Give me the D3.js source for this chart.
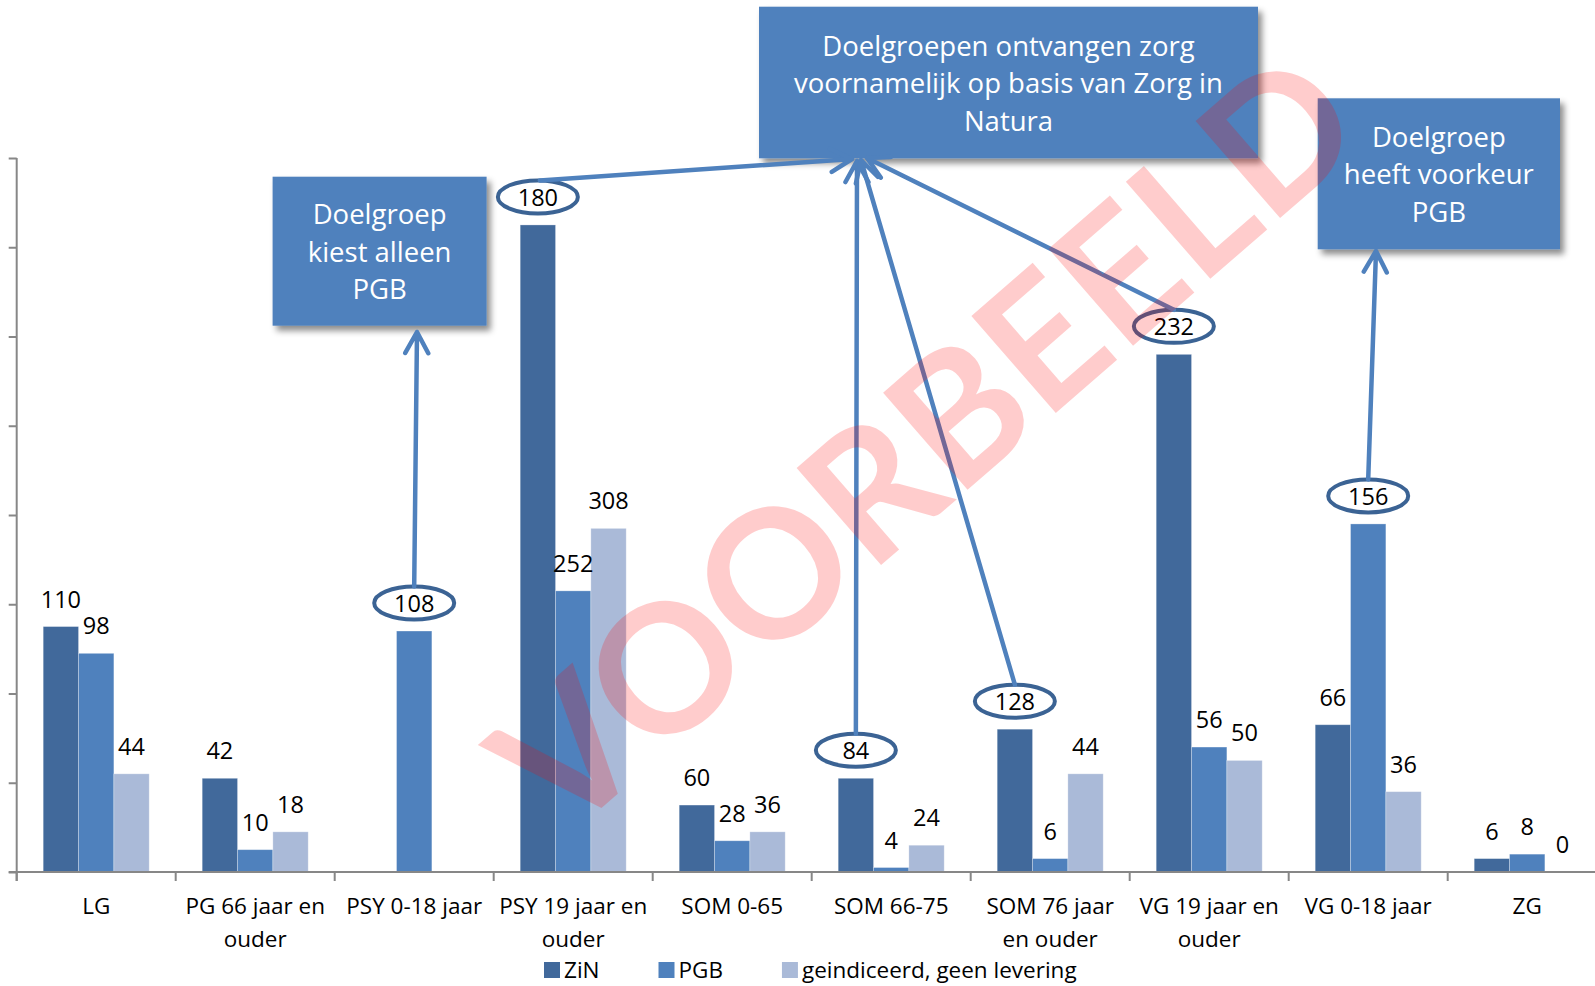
<!DOCTYPE html>
<html>
<head>
<meta charset="utf-8">
<script src="https://cdn.jsdelivr.net/npm/d3@7"></script>
<style>
  body { margin: 0; background: #fff; }
  text { font-family: "Open Sans", Lato, sans-serif; }
</style>
</head>
<body>
<div id="chart"></div>
<script>
// data (bar heights) and the printed labels
var categories = ["LG", "PG 66 jaar en ouder", "PSY 0-18 jaar", "PSY 19 jaar en ouder",
  "SOM 0-65", "SOM 66-75", "SOM 76 jaar en ouder", "VG 19 jaar en ouder", "VG 0-18 jaar", "ZG"];
var categoryLines = [["LG"], ["PG 66 jaar en", "ouder"], ["PSY 0-18 jaar"], ["PSY 19 jaar en", "ouder"],
  ["SOM 0-65"], ["SOM 66-75"], ["SOM 76 jaar", "en ouder"], ["VG 19 jaar en", "ouder"], ["VG 0-18 jaar"], ["ZG"]];
var seriesNames = ["ZiN", "PGB", "geindiceerd, geen levering"];
var zinValues = [110, 42, 0, 290, 30, 42, 64, 232, 66, 6];
var pgbValues = [98, 10, 108, 126, 14, 2, 6, 56, 156, 8];
var geenValues = [44, 18, 0, 154, 18, 12, 44, 50, 36, 0];
var zinLabels = ["110", "42", null, "180", "60", "84", "128", "232", "66", "6"];
var pgbLabels = ["98", "10", "108", "252", "28", "4", "6", "56", "156", "8"];
var geenLabels = ["44", "18", null, "308", "36", "24", "44", "50", "36", "0"];
var yTicks = [0, 40, 80, 120, 160, 200, 240, 280, 320];

// circled labels: [series index, category]
var circled = [[0, "PSY 19 jaar en ouder"], [1, "PSY 0-18 jaar"], [0, "SOM 66-75"],
  [0, "SOM 76 jaar en ouder"], [0, "VG 19 jaar en ouder"], [1, "VG 0-18 jaar"]];

var colors = ["#41699b", "#4f81bd", "#aabad8"];

var W = 1595, H = 986;
var svg = d3.select("#chart").append("svg")
  .attr("width", W).attr("height", H);

var defs = svg.append("defs");
var f = defs.append("filter").attr("id", "shadow")
  .attr("x", "-10%").attr("y", "-10%").attr("width", "130%").attr("height", "140%");
f.append("feDropShadow").attr("dx", 4).attr("dy", 5).attr("stdDeviation", 3)
  .attr("flood-color", "#000").attr("flood-opacity", 0.45);

var left = 16.7, step = 159, baseY = 872, topY = 158;

var x = d3.scaleBand().domain(categories)
  .range([left, left + step * categories.length]).padding(0);
var xs = d3.scaleBand().domain([0, 1, 2])
  .range([0, x.bandwidth()]).paddingInner(0).paddingOuter(0.75);
var y = d3.scaleLinear().domain([0, 320]).range([baseY, topY]);

var series = [zinValues, pgbValues, geenValues];
var labels = [zinLabels, pgbLabels, geenLabels];

// bars
series.forEach(function(vals, s) {
  svg.append("g").selectAll("rect")
    .data(categories)
    .enter().append("rect")
      .attr("x", function(d) { return x(d) + xs(s); })
      .attr("y", function(d, i) { return y(vals[i]); })
      .attr("width", xs.bandwidth())
      .attr("height", function(d, i) { return baseY - y(vals[i]); })
      .attr("fill", colors[s])
      .attr("stroke", "#ffffff").attr("stroke-opacity", 0.35).attr("stroke-width", 0.8);
});

// y axis
var yAxis = svg.append("g")
  .attr("transform", "translate(" + left + ",0)")
  .call(d3.axisLeft(y).tickValues(yTicks).tickSize(8).tickSizeOuter(0).tickFormat(""));
yAxis.selectAll("path, line").attr("stroke", "#878787").attr("stroke-width", 2);
yAxis.select(".domain").attr("d", "M0," + (baseY + 9) + "V" + topY);

// x axis line + boundary ticks
svg.append("line")
  .attr("x1", left - 8).attr("x2", W)
  .attr("y1", baseY).attr("y2", baseY)
  .attr("stroke", "#878787").attr("stroke-width", 2);
svg.append("g").selectAll("line")
  .data(d3.range(categories.length + 1))
  .enter().append("line")
    .attr("x1", function(i) { return left + i * step; })
    .attr("x2", function(i) { return left + i * step; })
    .attr("y1", baseY).attr("y2", baseY + 9)
    .attr("stroke", "#878787").attr("stroke-width", 2);

// category labels
var catG = svg.append("g").selectAll("text")
  .data(categories)
  .enter().append("text")
    .attr("x", function(d) { return x(d) + x.bandwidth() / 2; })
    .attr("y", 914)
    .attr("text-anchor", "middle")
    .style("font-size", "22.5px")
    .attr("fill", "#000");
catG.each(function(d, i) {
  var t = d3.select(this);
  categoryLines[i].forEach(function(line, k) {
    t.append("tspan")
      .attr("x", x(d) + x.bandwidth() / 2)
      .attr("dy", k === 0 ? 0 : 32.5)
      .text(line);
  });
});

// data labels
labels.forEach(function(labs, s) {
  svg.append("g").selectAll("text")
    .data(categories)
    .enter().append("text")
      .filter(function(d, i) { return labs[i] !== null; })
      .attr("x", function(d) { return x(d) + xs(s) + xs.bandwidth() / 2; })
      .attr("y", function(d) { var i = categories.indexOf(d); return y(series[s][i]) - 19; })
      .attr("text-anchor", "middle")
      .style("font-size", "23.5px")
      .attr("fill", "#000")
      .text(function(d) { return labs[categories.indexOf(d)]; });
});

// helpers for circled labels
function circleCenter(c) {
  var i = categories.indexOf(c[1]);
  return [x(c[1]) + xs(c[0]) + xs.bandwidth() / 2, y(series[c[0]][i]) - 19 - 9];
}
var ry = 16.5;

svg.append("g").selectAll("ellipse")
  .data(circled)
  .enter().append("ellipse")
    .attr("cx", function(c) { return circleCenter(c)[0]; })
    .attr("cy", function(c) { return circleCenter(c)[1]; })
    .attr("rx", 40).attr("ry", ry)
    .attr("fill", "none")
    .attr("stroke", "#3b6394")
    .attr("stroke-width", 4);

// callout boxes
var boxes = [
  {x: 272.6, y: 176.7, w: 214, h: 149, lines: ["Doelgroep", "kiest alleen", "PGB"]},
  {x: 759, y: 6.7, w: 499, h: 151.6, lines: ["Doelgroepen ontvangen zorg", "voornamelijk op basis van Zorg in", "Natura"]},
  {x: 1317.7, y: 98.3, w: 242.3, h: 151, lines: ["Doelgroep", "heeft voorkeur", "PGB"]}
];

// arrows: from circled label to box bottom
var arrows = [
  {from: 1, to: [417, 332]},
  {from: 0, to: [852, 159]},
  {from: 2, to: [857, 161]},
  {from: 3, to: [861, 160]},
  {from: 4, to: [867, 158]},
  {from: 5, to: [1376, 251]}
];

function arrowPath(a) {
  var c = circleCenter(circled[a.from]);
  var x0 = c[0], y0 = c[1] - ry;
  if (a.from === 0) x0 = c[0] + 2;
  var x1 = a.to[0], y1 = a.to[1];
  var ang = Math.atan2(y0 - y1, x0 - x1);
  var len = 24, spread = 0.5;
  var w1 = [x1 + len * Math.cos(ang - spread), y1 + len * Math.sin(ang - spread)];
  var w2 = [x1 + len * Math.cos(ang + spread), y1 + len * Math.sin(ang + spread)];
  return "M" + x0 + "," + y0 + "L" + x1 + "," + y1 +
    "M" + w1[0] + "," + w1[1] + "L" + x1 + "," + y1 + "L" + w2[0] + "," + w2[1];
}

var boxG = svg.append("g");
boxes.forEach(function(b) {
  boxG.append("rect")
    .attr("x", b.x).attr("y", b.y).attr("width", b.w).attr("height", b.h)
    .attr("fill", "#4f81bd")
    .attr("filter", "url(#shadow)");
});

svg.append("g").selectAll("path")
  .data(arrows)
  .enter().append("path")
    .attr("d", arrowPath)
    .attr("fill", "none")
    .attr("stroke", "#4f81bd")
    .attr("stroke-width", 4.5)
    .attr("stroke-linecap", "round")
    .attr("stroke-linejoin", "round");

boxes.forEach(function(b) {
  var cx = b.x + b.w / 2, cy = b.y + b.h / 2;
  b.lines.forEach(function(line, k) {
    boxG.append("text")
      .attr("x", cx)
      .attr("y", cy + 10.5 + (k - 1) * 37.5)
      .attr("text-anchor", "middle")
      .style("font-size", "27.5px")
      .attr("fill", "#fff")
      .text(line);
  });
});

// legend
var legend = svg.append("g");
var lx = 544;
seriesNames.forEach(function(name, s) {
  legend.append("rect")
    .attr("x", lx).attr("y", 962).attr("width", 16).attr("height", 16)
    .attr("fill", colors[s]);
  var t = legend.append("text")
    .attr("x", lx + 20).attr("y", 978)
    .style("font-size", "22.5px")
    .attr("fill", "#000")
    .text(name);
  lx += 20 + t.node().getComputedTextLength() + 59;
});

// watermark
svg.append("text")
  .attr("transform", "translate(922,438) rotate(-41)")
  .attr("text-anchor", "middle")
  .attr("dominant-baseline", "central")
  .style("font-size", "178px")
  .style("font-weight", "bold")
  .style("font-family", "Lato, sans-serif")
  .attr("fill", "#ff0000")
  .attr("fill-opacity", 0.2)
  .text("VOORBEELD");
</script>
</body>
</html>
